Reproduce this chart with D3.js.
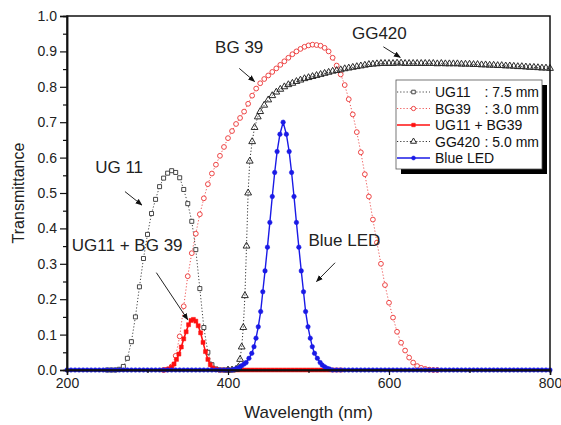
<!DOCTYPE html>
<html><head><meta charset="utf-8">
<script src="https://cdn.jsdelivr.net/npm/d3@7"></script>
<style>
html,body{margin:0;padding:0;background:#fff;}
svg{display:block;font-family:"Liberation Sans",Arial,sans-serif;}
</style></head><body>
<svg id="chart" width="561" height="425"></svg>
<script>
// ---------------- data ----------------
const ug11Nm = [250,255,260,265,270,275,280,285,290,295,300,305,310,315,320,325,330,335,340,345,350,355,360,365,370,375,380,385,390,395,400];
const ug11T  = [0,0,0,0.002,0.01,0.033,0.08,0.15,0.235,0.315,0.383,0.442,0.482,0.518,0.542,0.556,0.563,0.558,0.543,0.51,0.47,0.42,0.34,0.23,0.12,0.05,0.015,0.003,0,0,0];

const bg39Nm = [320,325,330,335,340,345,350,355,360,365,370,375,380,385,390,395,400,405,410,415,420,425,430,435,440,445,450,455,460,465,470,475,480,485,490,495,500,505,510,515,520,525,530,535,540,545,550,555,560,565,570,575,580,585,590,595,600,605,610,615,620,625,630,635,640,645,650,655,660];
const bg39T  = [0,0.002,0.01,0.04,0.095,0.18,0.265,0.33,0.385,0.44,0.485,0.525,0.555,0.58,0.605,0.63,0.655,0.675,0.695,0.712,0.73,0.752,0.775,0.795,0.81,0.822,0.832,0.842,0.852,0.862,0.872,0.882,0.892,0.9,0.907,0.913,0.917,0.919,0.918,0.916,0.91,0.9,0.882,0.86,0.835,0.805,0.765,0.722,0.672,0.615,0.553,0.49,0.425,0.36,0.3,0.24,0.19,0.148,0.108,0.077,0.055,0.035,0.021,0.011,0.006,0.003,0.001,0,0];

const comboNm = [320,324,327,330,333,336,339,342,345,348,351,354,357,360,363,366,369,372,375,378,381,385,390,395,400,405,410,415,420,425,430,435,440,445,450,455,460,465,470,475,480,485,490,495,500,505,510,515,520,525,530,535,540];
const comboT  = [0,0.001,0.003,0.008,0.017,0.03,0.045,0.065,0.088,0.108,0.128,0.14,0.143,0.138,0.125,0.105,0.078,0.052,0.03,0.015,0.006,0.002,0,0,0,0,0,0,0,0,0,0,0,0,0,0,0,0,0,0,0,0,0,0,0,0,0,0,0,0,0,0,0];

const gg420Nm = [400,405,410,413,415,417,419,421,423,425,427,430,433,437,
  440,445,450,455,460,465,470,475,480,485,
  490,495,500,505,510,515,520,525,530,535,
  540,545,550,555,560,565,570,575,580,585,
  590,595,600,605,610,615,620,625,630,635,
  640,645,650,655,660,665,670,675,680,685,
  690,695,700,705,710,715,720,725,730,735,
  740,745,750,755,760,765,770,775,780,785,
  790,795,800];
const gg420T = [0,0,0.002,0.008,0.03,0.065,0.12,0.21,0.35,0.5,0.59,0.645,0.685,0.715,
  0.73,0.748,0.763,0.775,0.785,0.793,0.8,0.806,0.81,0.815,
  0.819,0.823,0.826,0.829,0.832,0.835,0.838,0.841,0.844,0.846,
  0.848,0.851,0.853,0.855,0.857,0.859,0.861,0.863,0.864,0.865,
  0.866,0.866,0.866,0.866,0.867,0.867,0.866,0.866,0.866,0.866,
  0.866,0.866,0.866,0.866,0.865,0.866,0.865,0.865,0.865,0.865,
  0.864,0.864,0.864,0.863,0.863,0.862,0.862,0.861,0.861,0.86,
  0.86,0.859,0.859,0.858,0.857,0.857,0.856,0.855,0.855,0.854,
  0.853,0.853,0.852];

const ledNm = [200,205,210,215,220,225,230,235,240,245,250,255,260,265,270,275,280,285,290,295,
  300,305,310,315,320,325,330,335,340,345,350,355,360,365,370,375,380,385,390,395,400,405,
  408,411,414,417,420,422.5,426,429.5,432.3,434.8,437.6,440.6,443.2,446,449,452,455,458,461,464.5,468.5,
  472.5,476,479,482,485,488,491,493.8,496.4,499.4,502.2,504.7,507.5,511,514.5,517,520,523,526,
  530,535,540,545,550,555,560,565,570,575,580,585,590,595,600,605,610,615,620,625,630,635,640,645,
  650,655,660,665,670,675,680,685,690,695,700,705,710,715,720,725,730,735,740,745,750,755,760,765,
  770,775,780,785,790,795,800];
const ledT = [0,0,0,0,0,0,0,0,0,0,0,0,0,0,0,0,0,0,0,0,
  0,0,0,0,0,0,0,0,0,0,0,0,0,0,0,0,0,0,0,0,0,0,
  0.002,0.004,0.007,0.012,0.017,0.021,0.033,0.047,0.066,0.09,0.122,0.165,0.221,0.28,0.347,0.417,0.49,0.558,0.617,0.666,0.70,
  0.666,0.617,0.558,0.49,0.417,0.347,0.28,0.221,0.165,0.122,0.09,0.066,0.047,0.033,0.021,0.014,0.009,0.005,0.003,
  0,0,0,0,0,0,0,0,0,0,0,0,0,0,0,0,0,0,0,0,0,0,0,0,
  0,0,0,0,0,0,0,0,0,0,0,0,0,0,0,0,0,0,0,0,0,0,0,0,
  0,0,0,0,0,0,0];

const xMajorTicks = [200,400,600,800];
const xMinorTicks = [300,500,700];
const yMajorTicks = [0,0.1,0.2,0.3,0.4,0.5,0.6,0.7,0.8,0.9,1.0];
const yMinorTicks = [0.05,0.15,0.25,0.35,0.45,0.55,0.65,0.75,0.85,0.95];

const legendLabels = [["UG11", ": 7.5 mm"],["BG39", ": 3.0 mm"],["UG11 + BG39",""],["GG420", ": 5.0 mm"],["Blue LED",""]];

// annotations in data coordinates: text, text position, arrow from, arrow to
const annotations = [
  {text:"UG 11",        at:[235,0.556], from:[272,0.504], to:[293,0.466]},
  {text:"UG11 + BG 39", at:[206,0.336], from:[311,0.275], to:[350,0.142]},
  {text:"BG 39",        at:[384,0.895], from:[414,0.852], to:[433,0.815]},
  {text:"GG420",        at:[554,0.936], from:[593,0.913], to:[614,0.883]},
  {text:"Blue LED",     at:[500,0.351], from:[533,0.303], to:[510,0.250]}
];

// ---------------- chart ----------------
const svg = d3.select("#chart");
const W = 561, H = 425;
const x = d3.scaleLinear().domain([200,800]).range([67,550]);
const y = d3.scaleLinear().domain([0,1]).range([370,16]);

svg.append("rect").attr("width",W).attr("height",H).attr("fill","#fff");

const defs = svg.append("defs");
defs.append("marker").attr("id","arrow").attr("viewBox","0 0 10 10")
  .attr("refX",9).attr("refY",5).attr("markerWidth",7).attr("markerHeight",7)
  .attr("markerUnits","userSpaceOnUse").attr("orient","auto")
  .append("path").attr("d","M0,1 L10,5 L0,9 Z").attr("fill","#111");

const line = d3.line().x(d=>x(d[0])).y(d=>y(d[1]));

const styles = {
  ug11:  {stroke:"#444", width:1, dash:"1.2,2", sym:d3.symbolSquare, size:16, fill:"#fff", mstroke:"#333", mw:0.9},
  bg39:  {stroke:"#ee5555", width:1, dash:"1.2,2", sym:d3.symbolCircle, size:18, fill:"#fff", mstroke:"#ee4444", mw:1},
  combo: {stroke:"#ff1010", width:1.6, dash:null, sym:d3.symbolSquare, size:16, fill:"#ff1010", mstroke:"#ff1010", mw:0.5},
  gg420: {stroke:"#333", width:1, dash:"1.2,2", sym:d3.symbolTriangle, size:20, fill:"none", mstroke:"#2a2a2a", mw:1},
  led:   {stroke:"#1a1ae6", width:1.4, dash:null, sym:d3.symbolCircle, size:16, fill:"#1a1ae6", mstroke:"#1a1ae6", mw:0.5}
};

function drawSeries(nm, t, st){
  const pts = nm.map((d,i)=>[d,t[i]]);
  const g = svg.append("g");
  g.append("path").datum(pts).attr("d",line).attr("fill","none")
    .attr("stroke",st.stroke).attr("stroke-width",st.width)
    .attr("stroke-dasharray",st.dash);
  g.selectAll("path.m").data(pts).enter().append("path").attr("class","m")
    .attr("transform",d=>`translate(${x(d[0])},${y(d[1])})`)
    .attr("d",d3.symbol().type(st.sym).size(st.size))
    .attr("fill",st.fill).attr("stroke",st.mstroke).attr("stroke-width",st.mw);
}

drawSeries(ug11Nm, ug11T, styles.ug11);
drawSeries(bg39Nm, bg39T, styles.bg39);
drawSeries(comboNm, comboT, styles.combo);
drawSeries(gg420Nm, gg420T, styles.gg420);
drawSeries(ledNm, ledT, styles.led);

// frame
svg.append("rect").attr("x",x(200)).attr("y",y(1)).attr("width",x(800)-x(200)).attr("height",y(0)-y(1))
  .attr("fill","none").attr("stroke","#111").attr("stroke-width",1.5);

// axes
svg.append("g").attr("transform",`translate(0,${y(0)})`)
  .call(d3.axisBottom(x).tickValues(xMajorTicks).tickSize(5).tickPadding(3).tickFormat(d3.format("d")));
svg.append("g").attr("transform",`translate(0,${y(0)})`)
  .call(d3.axisBottom(x).tickValues(xMinorTicks).tickSize(3).tickFormat(""));
svg.append("g").attr("transform",`translate(${x(200)},0)`)
  .call(d3.axisLeft(y).tickValues(yMajorTicks).tickSize(7).tickPadding(3).tickFormat(d3.format(".1f")));
svg.append("g").attr("transform",`translate(${x(200)},0)`)
  .call(d3.axisLeft(y).tickValues(yMinorTicks).tickSize(4).tickFormat(""));
svg.selectAll(".domain").attr("stroke","#111").attr("stroke-width",1.5);
svg.selectAll(".tick line").attr("stroke","#111").attr("stroke-width",1.2);
svg.selectAll(".tick text").attr("font-size",14).attr("fill","#222")
  .attr("font-family",'"Liberation Sans",Arial,sans-serif');

// axis titles
svg.append("text").attr("x",(x(200)+x(800))/2).attr("y",418).attr("text-anchor","middle")
  .attr("font-size",17).attr("fill","#222").text("Wavelength (nm)");
svg.append("text").attr("transform",`translate(24,${(y(0)+y(1))/2}) rotate(-90)`)
  .attr("text-anchor","middle").attr("font-size",16).attr("fill","#222").text("Transmittance");

// annotations
const ann = svg.append("g");
annotations.forEach(a=>{
  ann.append("text").attr("x",x(a.at[0])).attr("y",y(a.at[1])).attr("font-size",17)
    .attr("fill","#222").text(a.text);
  ann.append("line").attr("x1",x(a.from[0])).attr("y1",y(a.from[1]))
    .attr("x2",x(a.to[0])).attr("y2",y(a.to[1]))
    .attr("stroke","#222").attr("stroke-width",1).attr("marker-end","url(#arrow)");
});

// legend
const lg = svg.append("g");
const lx = 396, ly = 80, lw = 146, lh = 89;
lg.append("rect").attr("x",lx+5).attr("y",ly+5).attr("width",lw).attr("height",lh).attr("fill","#000");
lg.append("rect").attr("x",lx).attr("y",ly).attr("width",lw).attr("height",lh)
  .attr("fill","#fff").attr("stroke","#555").attr("stroke-width",0.8);
const legendStyles = [styles.ug11, styles.bg39, styles.combo, styles.gg420, styles.led];
legendLabels.forEach((lab,i)=>{
  const cy = ly + 12 + i*16.5;
  const st = legendStyles[i];
  lg.append("line").attr("x1",lx+1).attr("x2",lx+34).attr("y1",cy).attr("y2",cy)
    .attr("stroke",st.stroke).attr("stroke-width",st.width).attr("stroke-dasharray",st.dash);
  lg.append("path").attr("transform",`translate(${lx+17.5},${cy})`)
    .attr("d",d3.symbol().type(st.sym).size(st.size*0.8))
    .attr("fill",st.fill==="none"?"#fff":st.fill).attr("stroke",st.mstroke).attr("stroke-width",st.mw);
  lg.append("text").attr("x",lx+39).attr("y",cy+5).attr("font-size",14).attr("fill","#111").text(lab[0]);
  if(lab[1]) lg.append("text").attr("x",lx+lw-3).attr("y",cy+5).attr("text-anchor","end")
    .attr("font-size",14).attr("fill","#111").text(lab[1]);
});
</script>
</body></html>
